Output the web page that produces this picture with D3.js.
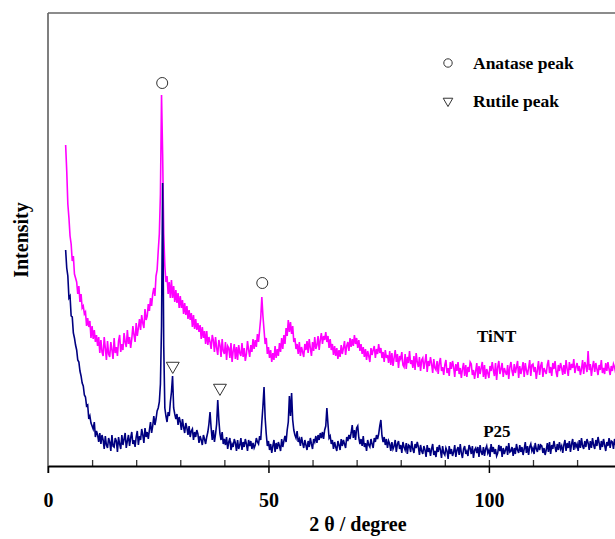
<!DOCTYPE html>
<html>
<head>
<meta charset="utf-8">
<script src="https://cdn.jsdelivr.net/npm/d3@7"></script>
<style>
  body { margin: 0; background: #fff; }
  text { font-family: "Liberation Serif", "Times New Roman", serif; font-weight: bold; fill: #000; }
</style>
</head>
<body>
<div id="root"></div>
<script>
// scan grid (2 theta, degrees)
const thetaStart = 4;
const thetaStep = 0.25;

// P25 intensity, 4 readings per degree
const p25Values = [
  216, 198, 190, 168,  170, 150, 149, 133,  128, 121, 116, 106,  104, 95, 90, 83,
  80, 71, 69, 60,  61, 47, 50, 43,  40, 37, 44, 29,  35, 31, 24, 33,
  22, 31, 26, 17,  30, 21, 18, 28,  24, 15, 31, 20,  19, 28, 25, 14,
  29, 22, 17, 31,  21, 27, 33, 18,  25, 31, 20, 28,  34, 22, 26, 19,
  29, 35, 21, 30,  26, 37, 31, 23,  38, 29, 34, 27,  36, 44, 33, 40,
  50, 41, 47, 55,  58, 64, 82, 140,  283, 120, 58, 50,  44, 54, 50, 64,
  74, 90, 58, 52,  47, 52, 41, 49,  44, 36, 47, 39,  33, 43, 38, 31,
  40, 29, 35, 37,  26, 34, 29, 36,  32, 23, 30, 26,  21, 31, 27, 22,
  29, 34, 42, 54,  38, 26, 36, 24,  32, 42, 66, 46,  32, 26, 34, 22,
  27, 21, 29, 17,  24, 28, 16, 22,  19, 27, 23, 15,  26, 17, 21, 28,
  16, 24, 19, 27,  22, 15, 26, 20,  25, 17, 23, 18,  21, 28, 24, 22,
  30, 26, 44, 60,  79, 48, 32, 20,  25, 16, 22, 13,  20, 26, 14, 23,
  17, 24, 20, 15,  27, 19, 25, 30,  24, 36, 44, 70,  50, 73, 46, 36,
  31, 28, 35, 24,  27, 20, 29, 23,  18, 26, 21, 16,  25, 19, 28, 22,
  17, 27, 24, 30,  23, 31, 26, 33,  28, 34, 27, 36,  40, 58, 42, 28,
  30, 22, 26, 17,  24, 19, 15, 25,  21, 16, 27, 20,  26, 22, 18, 29,
  25, 31, 27, 33,  41, 28, 36, 26,  38, 40, 28, 22,  27, 20, 30, 19,
  23, 15, 26, 21,  19, 27, 22, 18,  28, 24, 31, 27,  32, 40, 46, 30,
  24, 29, 21, 27,  18, 25, 22, 15,  24, 17, 20, 26,  14, 22, 25, 17,
  21, 13, 24, 19,  16, 23, 12, 21,  20, 14, 25, 17,  13, 22, 18, 24,
  19, 11, 21, 15,  12, 20, 16, 9,  21, 14, 18, 10,  17, 22, 11, 15,
  9, 19, 14, 21,  16, 8, 20, 13,  11, 18, 15, 7,  20, 12, 17, 10,
  14, 21, 9, 16,  19, 11, 22, 13,  8, 17, 20, 12,  15, 10, 21, 18,
  12, 20, 8, 16,  18, 13, 19, 9,  21, 14, 11, 19,  10, 17, 20, 13,
  16, 9, 22, 14,  19, 12, 17, 10,  13, 21, 15, 20,  9, 18, 12, 16,
  20, 11, 23, 14,  15, 19, 10, 18,  12, 22, 16, 13,  21, 14, 19, 11,
  17, 24, 13, 20,  11, 19, 22, 15,  18, 12, 23, 17,  14, 22, 16, 21,
  20, 13, 18, 11,  16, 23, 14, 24,  12, 21, 17, 25,  19, 14, 22, 16,
  24, 17, 20, 13,  21, 26, 15, 23,  18, 25, 14, 22,  27, 16, 24, 19,
  22, 15, 26, 18,  28, 20, 17, 25,  19, 27, 23, 16,  25, 18, 28, 21,
  17, 26, 20, 29,  23, 16, 25, 19,  27, 21, 15, 24,  20, 28, 18, 25,
  24, 17, 27, 21,  22
];

// TiNT intensity, same grid
const tintValues = [
  321, 295, 262, 248,  230, 222, 205, 210,  192, 188, 184, 172,  180, 164, 172, 158,
  160, 152, 154, 140,  148, 139, 145, 128,  140, 127, 136, 124,  131, 120, 129, 113,
  126, 114, 110, 129,  118, 106, 125, 112,  109, 124, 116, 107,  128, 113, 119, 110,
  125, 131, 114, 122,  116, 133, 124, 119,  136, 122, 129, 118,  127, 140, 131, 124,
  143, 130, 138, 147,  136, 151, 143, 138,  157, 146, 150, 162,  155, 168, 160, 172,
  178, 170, 190, 196,  215, 232, 272, 371,  312, 232, 200, 184,  190, 172, 184, 168,
  186, 168, 180, 164,  176, 163, 173, 158,  170, 158, 166, 152,  163, 151, 160, 147,
  156, 146, 153, 139,  151, 137, 147, 136,  143, 134, 141, 127,  139, 128, 135, 122,
  135, 121, 129, 124,  117, 131, 126, 114,  129, 118, 111, 126,  121, 109, 127, 115,
  112, 124, 106, 120,  118, 108, 123, 104,  115, 122, 107, 119,  106, 121, 113, 110,
  123, 109, 118, 105,  112, 125, 116, 109,  121, 114, 127, 117,  126, 119, 132, 124,
  136, 148, 169, 150,  136, 122, 128, 112,  119, 108, 116, 104,  113, 106, 120, 108,
  117, 110, 123, 114,  128, 117, 131, 122,  138, 130, 146, 134,  144, 132, 140, 124,
  128, 117, 122, 112,  124, 110, 119, 114,  109, 122, 116, 125,  113, 127, 118, 110,
  124, 115, 129, 117,  121, 130, 116, 126,  133, 122, 130, 126,  134, 124, 130, 118,
  127, 116, 122, 111,  120, 110, 118, 107,  116, 109, 121, 112,  118, 125, 111, 120,
  124, 115, 128, 119,  127, 120, 131, 122,  128, 118, 126, 115,  122, 112, 119, 109,
  117, 106, 115, 110,  104, 118, 111, 116,  120, 108, 117, 112,  122, 113, 118, 108,
  114, 104, 116, 108,  111, 103, 115, 101,  113, 100, 108, 116,  104, 112, 98, 110,
  107, 114, 101, 99,  112, 97, 109, 103,  115, 102, 106, 98,  110, 96, 113, 104,
  99, 109, 95, 106,  108, 97, 104, 112,  94, 105, 100, 109,  102, 93, 107, 98,
  96, 105, 92, 103,  108, 95, 99, 91,  101, 106, 93, 98,  90, 104, 97, 105,
  99, 89, 102, 95,  104, 92, 98, 88,  97, 103, 90, 101,  89, 99, 94, 104,
  102, 91, 96, 87,  95, 103, 88, 100,  92, 98, 104, 89,  101, 87, 97, 93,
  88, 100, 95, 104,  96, 90, 103, 86,  99, 105, 92, 97,  103, 89, 98, 94,
  91, 101, 87, 99,  104, 95, 90, 102,  93, 99, 105, 88,  100, 92, 97, 104,
  89, 103, 96, 91,  98, 106, 90, 101,  102, 94, 99, 87,  96, 105, 91, 100,
  104, 89, 98, 95,  92, 101, 106, 93,  99, 90, 103, 97,  105, 94, 89, 101,
  95, 103, 98, 91,  101, 92, 106, 97,  90, 104, 96, 102,  98, 107, 93, 99,
  103, 95, 100, 91,  97, 106, 92, 104,  100, 94, 115, 96,  102, 90, 99, 105,
  94, 103, 97, 91,  101, 96, 106, 93,  98, 92, 103, 95,  104, 97, 91, 100,
  95, 102, 99, 93,  97
];

// peak marks [2 theta, intensity]
const anataseMarks = [[25.9, 383], [48.6, 183]];
const rutileMarks = [[28.3, 100], [39.0, 78]];

// sample labels [name, 2 theta, intensity]
const sampleLabels = [["TiNT", 97.3, 124], ["P25", 98.7, 29]];
const legendItems = ["Anatase peak", "Rutile peak"];

const majorTicks = [0, 50, 100];
const minorTicks = [10, 20, 30, 40, 50, 60, 70, 80, 90, 100, 110, 120];

const outerWidth = 615;
const outerHeight = 539;

let x = d3.scaleLinear().domain([0, 128.6]).range([48, 615]);
let y = d3.scaleLinear().domain([0, 453]).range([466, 13]);

let svg = d3.select("#root")
            .append("svg")
            .attr("width", outerWidth)
            .attr("height", outerHeight);

svg.append("defs").append("clipPath")
    .attr("id", "plot-clip")
    .append("rect")
    .attr("x", 48).attr("y", 0)
    .attr("width", 567).attr("height", 466);

function toPoints(values) {
    return values.map((v, i) => [thetaStart + i * thetaStep, v]);
}

let line = d3.line()
    .x(d => x(d[0]))
    .y(d => y(d[1]));

let plot = svg.append("g").attr("clip-path", "url(#plot-clip)");

plot.append("path")
    .datum(toPoints(tintValues))
    .attr("d", line)
    .attr("fill", "none")
    .attr("stroke", "#ff00ff")
    .attr("stroke-width", 1.6);

plot.append("path")
    .datum(toPoints(p25Values))
    .attr("d", line)
    .attr("fill", "none")
    .attr("stroke", "#000080")
    .attr("stroke-width", 1.6);

// frame: left and top in grey
svg.append("line")
    .attr("x1", 48).attr("x2", 48).attr("y1", 13).attr("y2", 473)
    .attr("stroke", "#555").attr("stroke-width", 1.5);
svg.append("line")
    .attr("x1", 48).attr("x2", 615).attr("y1", 13).attr("y2", 13)
    .attr("stroke", "#666").attr("stroke-width", 1.5);

// x axis: minor ticks pointing up, major ticks pointing down
let minorAxis = svg.append("g")
    .attr("transform", "translate(0, 466)")
    .call(d3.axisBottom(x).tickValues(minorTicks).tickSize(-6).tickFormat(""));
minorAxis.select(".domain").remove();
minorAxis.selectAll("line").attr("stroke", "#333").attr("stroke-width", 1.3);

let majorAxis = svg.append("g")
    .attr("transform", "translate(0, 466)")
    .call(d3.axisBottom(x).tickValues(majorTicks).tickSize(7).tickPadding(20).tickSizeOuter(0));
majorAxis.select(".domain").attr("stroke", "#000").attr("stroke-width", 2);
majorAxis.selectAll("line").attr("stroke", "#000").attr("stroke-width", 1.5);
majorAxis.selectAll("text")
    .style("font-family", "'Liberation Serif', serif")
    .style("font-weight", "bold")
    .style("font-size", "20px");

svg.append("text")
    .attr("x", 358).attr("y", 531)
    .attr("text-anchor", "middle")
    .style("font-size", "20px")
    .text("2 θ / degree");

svg.append("text")
    .attr("transform", "rotate(-90)")
    .attr("x", -240).attr("y", 28)
    .attr("text-anchor", "middle")
    .style("font-size", "20px")
    .text("Intensity");

// peak markers
svg.selectAll(".anatase")
    .data(anataseMarks)
    .enter().append("circle")
    .attr("class", "anatase")
    .attr("cx", d => x(d[0]))
    .attr("cy", d => y(d[1]))
    .attr("r", 5.5)
    .attr("fill", "#fff")
    .attr("stroke", "#333")
    .attr("stroke-width", 1);

let tri = d3.symbol().type(d3.symbolTriangle);

svg.selectAll(".rutile")
    .data(rutileMarks)
    .enter().append("path")
    .attr("class", "rutile")
    .attr("d", tri.size(72)())
    .attr("transform", d => `translate(${x(d[0])}, ${y(d[1])}) rotate(180)`)
    .attr("fill", "#fff")
    .attr("stroke", "#333")
    .attr("stroke-width", 1);

// sample names
svg.selectAll(".sample")
    .data(sampleLabels)
    .enter().append("text")
    .attr("class", "sample")
    .attr("x", d => x(d[1]))
    .attr("y", d => y(d[2]))
    .style("font-size", "17px")
    .text(d => d[0]);

// legend
let legend = svg.selectAll(".legend")
    .data(legendItems)
    .enter().append("g")
    .attr("class", "legend")
    .attr("transform", (d, i) => `translate(448, ${63 + i * 38})`);

legend.append("text")
    .attr("x", 25).attr("y", 6)
    .style("font-size", "17.5px")
    .text(d => d);

legend.filter((d, i) => i === 0).append("circle")
    .attr("r", 4.2)
    .attr("fill", "#fff").attr("stroke", "#333").attr("stroke-width", 1);

legend.filter((d, i) => i === 1).append("path")
    .attr("d", tri.size(40)())
    .attr("transform", "rotate(180)")
    .attr("fill", "#fff").attr("stroke", "#333").attr("stroke-width", 1);
</script>
</body>
</html>
